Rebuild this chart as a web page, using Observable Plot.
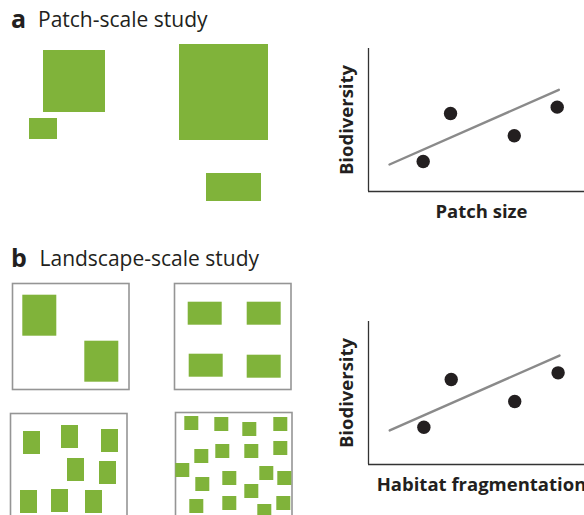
<!DOCTYPE html>
<html><head><meta charset="utf-8">
<script src="https://cdn.jsdelivr.net/npm/d3@7"></script>
<script src="https://cdn.jsdelivr.net/npm/@observablehq/plot@0.6"></script>
<style>
html,body{margin:0;padding:0;background:#fff;}
#fig{position:relative;width:584px;height:515px;overflow:hidden;font-family:"Open Sans",sans-serif;color:#231f20;}
.abs{position:absolute;white-space:nowrap;line-height:1;}
.letter{font-weight:700;font-size:25px;}
.title{font-size:21px;}
</style></head><body><div id="fig"></div>
<script>
// ---------- data ----------
const panelLetters = ["a", "b"];
const panelTitles = ["Patch-scale study", "Landscape-scale study"];
const yLabel = "Biodiversity";
const xLabels = ["Patch size", "Habitat fragmentation"];

// (a) patch-scale study: patch corners and sizes (landscape units)
const patchX = [43, 29, 179, 206];
const patchY = [10, 78, 4, 133];
const patchW = [62, 28, 89, 55];
const patchH = [62, 21, 96, 28];

// (b) landscape-scale study: four landscapes, patch corners (landscape units) + patch size
const land1 = [[10.3, 11.7], [72.3, 57.7]];
const land1Size = [34, 41];
const land2 = [[13.7, 18.7], [72.7, 18.7], [14.7, 70.7], [72.7, 71.7]];
const land2Size = [34, 23];
const land3 = [[13, 18], [51, 12], [91, 16], [57, 45], [89, 48], [10, 77], [41, 76], [75, 77]];
const land3Size = [17, 23];
const land4 = [[9.3, 4], [39.3, 5], [67.3, 10], [98.3, 5], [19.3, 37], [40.3, 32], [69.3, 32], [98.3, 29],
  [0.3, 51], [20.3, 65], [47.3, 59], [84.3, 54], [102.3, 59], [69.3, 72], [14.3, 87], [47.3, 84], [82.3, 92], [101.3, 84]];
const land4Size = [14, 14];

// scatter (a): biodiversity vs patch size
const patchSize = [2.42, 3.63, 6.45, 8.35];
const bioA = [2.1, 5.45, 3.9, 5.9];
const trendAx = [0.93, 8.42];
const trendAy = [1.89, 7.11];
// scatter (b): biodiversity vs habitat fragmentation
const fragmentation = [2.45, 3.66, 6.47, 8.39];
const bioB = [2.61, 5.94, 4.41, 6.41];
const trendBx = [0.94, 8.45];
const trendBy = [2.38, 7.62];

// ---------- styles ----------
const GREEN = "#80b33a";
const INK = "#231f20";
const FONT = '"Open Sans", sans-serif';
const baseStyle = {background: "transparent", maxWidth: "none", overflow: "visible", fontFamily: FONT};

const fig = document.getElementById("fig");
function place(node, left, top, w) {
  const d = document.createElement("div");
  d.className = "abs";
  d.style.left = left + "px";
  d.style.top = top + "px";
  if (w) d.style.width = w + "px";
  d.appendChild(node);
  fig.appendChild(d);
  return d;
}
function label(text, cls, left, top) {
  const s = document.createElement("span");
  s.className = "abs " + cls;
  s.textContent = text;
  s.style.left = left + "px";
  s.style.top = top + "px";
  fig.appendChild(s);
}

function landscape(cells, W, H, framed) {
  const m = framed ? 1 : 0;
  return Plot.plot({
    width: W + 2 * m, height: H + 2 * m, margin: m,
    x: {domain: [0, W], axis: null},
    y: {domain: [0, H], reverse: true, axis: null},
    style: baseStyle,
    marks: [
      framed ? Plot.frame({stroke: "#959595", strokeWidth: 1.6}) : null,
      Plot.rect(cells, {x1: d => d.x, x2: d => d.x + d.w, y1: d => d.y, y2: d => d.y + d.h, fill: GREEN})
    ]
  });
}
function cellsOf(list, size) {
  return list.map(([x, y]) => ({x, y, w: size[0], h: size[1]}));
}

function scatter(xs, ys, tx, ty, xlab) {
  return Plot.plot({
    width: 300, height: 200,
    marginLeft: 68, marginRight: 6, marginTop: 18, marginBottom: 39,
    x: {domain: [0, 10], axis: null},
    y: {domain: [0, 10], axis: null},
    style: baseStyle,
    marks: [
      Plot.ruleX([0], {stroke: "#333", strokeWidth: 1.3}),
      Plot.ruleY([0], {stroke: "#333", strokeWidth: 1.3}),
      Plot.line(d3.zip(tx, ty), {x: d => d[0], y: d => d[1], stroke: "#8a8a8a", strokeWidth: 2.4}),
      Plot.dot(d3.zip(xs, ys), {x: d => d[0], y: d => d[1], r: 6.7, fill: INK}),
      Plot.text([yLabel], {frameAnchor: "left", rotate: -90, dx: -21, textAnchor: "middle", lineAnchor: "middle",
        fontSize: 18.5, fontWeight: "bold", fill: INK}),
      Plot.text([xlab], {frameAnchor: "bottom", dy: 21, textAnchor: "middle", lineAnchor: "middle",
        fontSize: 18.5, fontWeight: "bold", fill: INK})
    ]
  });
}

// ---------- titles ----------
label(panelLetters[0], "letter", 11, 5.5);
label(panelTitles[0], "title", 38, 9);
label(panelLetters[1], "letter", 11, 244.5);
label(panelTitles[1], "title", 39.5, 248);

// ---------- (a) ----------
const patchesA = patchX.map((x, i) => ({x, y: patchY[i], w: patchW[i], h: patchH[i]}));
place(landscape(patchesA, 300, 170, false), 0, 40, 300);
place(scatter(patchSize, bioA, trendAx, trendAy, xLabels[0]), 300, 30, 300);

// ---------- (b) ----------
place(landscape(cellsOf(land1, land1Size), 116.5, 106, true), 10.7, 282.3, 118.5);
place(landscape(cellsOf(land2, land2Size), 116.5, 106, true), 173.3, 282.3, 118.5);
place(landscape(cellsOf(land3, land3Size), 116.5, 106, true), 9, 412, 118.5);
place(landscape(cellsOf(land4, land4Size), 116.5, 106, true), 173.7, 411, 118.5);
place(scatter(fragmentation, bioB, trendBx, trendBy, xLabels[1]), 300, 303, 300);
</script></body></html>
